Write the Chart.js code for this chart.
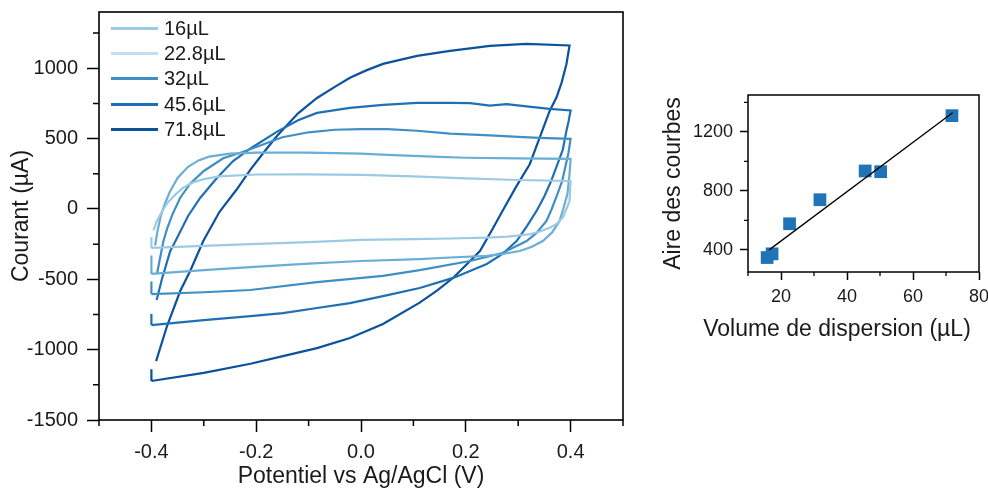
<!DOCTYPE html>
<html>
<head>
<meta charset="utf-8">
<script src="https://cdn.jsdelivr.net/npm/chart.js@4.4.1/dist/chart.umd.min.js"></script>
<style>
  html, body { margin: 0; padding: 0; background: #fff; width: 988px; height: 488px; overflow: hidden;
    font-family: "Liberation Sans", Arial, sans-serif; }
  #cv { position: absolute; left: 0; top: 0; }
  #fit { position: absolute; left: 640px; top: 0; }
  #legend { position: absolute; left: 111px; top: 16px; }
  .row { height: 25.2px; display: flex; align-items: center; }
  .sw { width: 47px; height: 3px; margin-right: 6px; }
  .row span { font-size: 20px; color: #1a1a1a; }
  #fitTitle { position: absolute; left: 637px; width: 400px; top: 314px; height: 28px; line-height: 28px;
    text-align: center; font-size: 23px; color: #1a1a1a; white-space: nowrap; }
</style>
</head>
<body>
<canvas id="cv" width="640" height="488"></canvas>
<canvas id="fit" width="348" height="488"></canvas>
<div id="legend"></div>
<div id="fitTitle">Volume de dispersion (µL)</div>
<script>
// cyclic voltammograms: potential (V) / current (µA), forward scan then reverse
const v16  = [-0.4, -0.4, null, -0.396, -0.39, -0.38, -0.37, -0.355, -0.34, -0.32, -0.3, -0.27, -0.2, -0.1, 0, 0.1, 0.2, 0.3, 0.4,
              0.398, 0.392, 0.385, 0.372, 0.36, 0.34, 0.322, 0.28, 0.239, 0.17, 0.1, 0, -0.1, -0.211, -0.3, -0.4];
const i16  = [-277, -200, null, -150, -90, -20, 40, 100, 150, 190, 212, 232, 245, 246, 242, 232, 218, 206, 199,
              57, 0, -62, -110, -133, -162, -180, -196, -204, -210, -214, -220, -235, -250, -262, -277];

const v228 = [-0.4, -0.4, null, -0.393, -0.388, -0.382, -0.375, -0.365, -0.35, -0.33, -0.31, -0.29, -0.25, -0.2, -0.1, 0, 0.05, 0.1, 0.15, 0.2, 0.3, 0.4,
              0.398, 0.394, 0.386, 0.379, 0.365, 0.347, 0.325, 0.303, 0.27, 0.24, 0.17, 0.112, 0, -0.1, -0.211, -0.3, -0.4];
const i228 = [-462, -330, null, -260, -150, -50, 30, 120, 220, 300, 345, 372, 393, 400, 400, 393, 385, 377, 370, 364, 360, 356,
              250, 107, 0, -85, -165, -228, -270, -299, -320, -334, -345, -356, -370, -388, -413, -435, -462];

const v32  = [-0.4, -0.4, null, -0.389, -0.383, -0.377, -0.37, -0.36, -0.345, -0.326, -0.3, -0.263, -0.23, -0.2, -0.15, -0.1, -0.05, 0, 0.05, 0.107, 0.17, 0.246, 0.3, 0.34, 0.4,
              0.396, 0.39, 0.384, 0.375, 0.364, 0.354, 0.335, 0.316, 0.27, 0.208, 0.112, 0.042, -0.084, -0.211, -0.3, -0.4];
const i32  = [-605, -515, null, -455, -340, -228, -140, -40, 80, 180, 270, 360, 400, 440, 510, 545, 563, 568, 568, 556, 535, 523, 512, 505, 498,
              400, 300, 199, 107, 0, -85, -170, -228, -313, -370, -435, -475, -520, -576, -592, -605];

const v456 = [-0.4, -0.4, null, -0.39, -0.38, -0.364, -0.354, -0.33, -0.307, -0.275, -0.244, -0.211, -0.16, -0.12, -0.084, -0.021, 0.042, 0.107, 0.17, 0.208, 0.246, 0.278, 0.32, 0.36, 0.4,
              0.396, 0.392, 0.385, 0.376, 0.363, 0.35, 0.335, 0.317, 0.297, 0.27, 0.24, 0.176, 0.112, 0.042, -0.021, -0.084, -0.149, -0.211, -0.3, -0.4];
const i456 = [-825, -747, null, -647, -500, -299, -228, -50, 78, 220, 341, 430, 550, 630, 683, 718, 740, 754, 754, 752, 735, 745, 728, 711, 700,
              620, 555, 420, 330, 200, 90, -14, -120, -228, -320, -391, -490, -562, -619, -669, -704, -740, -761, -790, -825];

const v718 = [-0.4, -0.4, null, -0.391, -0.37, -0.345, -0.326, -0.301, -0.27, -0.237, -0.211, -0.185, -0.16, -0.12, -0.084, -0.05, -0.021, 0.01, 0.042, 0.107, 0.17, 0.246, 0.316, 0.398,
              0.392, 0.383, 0.373, 0.36, 0.341, 0.322, 0.297, 0.27, 0.25, 0.227, 0.2, 0.176, 0.145, 0.112, 0.042, -0.021, -0.084, -0.149, -0.211, -0.3, -0.4];
const i718 = [-1223, -1140, null, -1081, -830, -583, -441, -228, -20, 140, 280, 405, 520, 680, 789, 868, 932, 985, 1031, 1088, 1124, 1159, 1173, 1162,
              1029, 900, 792, 697, 507, 318, 164, -14, -150, -299, -400, -489, -580, -666, -818, -917, -989, -1046, -1100, -1165, -1223];

const cvLabels = ['16µL', '22.8µL', '32µL', '45.6µL', '71.8µL'];
const cvVolts = [v16, v228, v32, v456, v718];
const cvAmps = [i16, i228, i32, i456, i718];
const lineColors = ['#9ccae4', '#6aaed6', '#3f8fc5', '#1f6fb4', '#0b529c'];
const legendColors = ['#9ccae4', '#c6dcef', '#3f8fc5', '#1f6fb4', '#0b529c'];

const xTicksL = [-0.4, -0.2, 0, 0.2, 0.4];
const xMinorL = [-0.5, -0.3, -0.1, 0.1, 0.3, 0.5];
const yTicksL = [-1500, -1000, -500, 0, 500, 1000];
const yMinorL = [-1250, -750, -250, 250, 750, 1250];

// area vs dispersion volume
const volume = [15.8, 17.3, 22.6, 31.8, 45.5, 50.2, 71.8];
const aire = [348, 373, 577, 740, 935, 930, 1310];
const fitX = [16.4, 72];
const fitY = [400, 1330];

const xTicksR = [20, 40, 60, 80];
const xMinorR = [10, 30, 50, 70];
const yTicksR = [400, 800, 1200];
const yMinorR = [600, 1000, 1400];

Chart.defaults.font.family = '"Liberation Sans", Arial, sans-serif';
Chart.defaults.color = '#1a1a1a';

function pts(xs, ys) {
  return xs.map((x, k) => ({ x: x, y: ys[k] }));
}

// box around the plot + short minor ticks
const framePlugin = {
  id: 'frame',
  afterDraw(chart, args, o) {
    const { ctx, chartArea: a } = chart;
    const sx = chart.scales.x, sy = chart.scales.y;
    ctx.save();
    ctx.strokeStyle = '#000';
    ctx.lineWidth = o.width;
    ctx.strokeRect(a.left, a.top, a.right - a.left, a.bottom - a.top);
    ctx.lineWidth = o.tickWidth;
    ctx.beginPath();
    o.xMinor.forEach(v => {
      const p = sx.getPixelForValue(v);
      ctx.moveTo(p, a.bottom); ctx.lineTo(p, a.bottom + o.len);
    });
    o.yMinor.forEach(v => {
      const p = sy.getPixelForValue(v);
      ctx.moveTo(a.left, p); ctx.lineTo(a.left - o.len, p);
    });
    ctx.stroke();
    ctx.restore();
  }
};

function scale(opt) {
  return {
    type: 'linear',
    min: opt.min,
    max: opt.max,
    afterBuildTicks: s => { s.ticks = opt.ticks.map(v => ({ value: v })); },
    afterFit: s => {
      if (opt.height) s.height = opt.height;
      if (opt.width) s.width = opt.width;
      s.paddingLeft = 0; s.paddingRight = 0; s.paddingTop = 0; s.paddingBottom = 0;
    },
    ticks: { font: { size: opt.fontSize }, padding: opt.pad, autoSkip: false, maxRotation: 0,
             callback: opt.fmt || (v => String(v)) },
    grid: { drawOnChartArea: false, tickLength: opt.tick, tickWidth: 1.5, tickColor: '#000' },
    border: { display: false },
    title: { display: !!opt.title, text: opt.title, font: { size: 23, lineHeight: 1 }, color: '#1a1a1a', padding: opt.titlePad }
  };
}

new Chart(document.getElementById('cv'), {
  type: 'line',
  data: {
    datasets: cvLabels.map((lab, k) => ({
      label: lab,
      data: pts(cvVolts[k], cvAmps[k]),
      borderColor: lineColors[k],
      borderWidth: 2.2,
      pointRadius: 0,
      tension: 0,
      spanGaps: false,
      fill: false
    }))
  },
  options: {
    responsive: false,
    animation: false,
    layout: { padding: { top: 12, right: 17, left: 0, bottom: 0 } },
    plugins: {
      legend: { display: false },
      tooltip: { enabled: false },
      frame: { xMinor: xMinorL, yMinor: yMinorL, len: 6, width: 1.6, tickWidth: 1.5 }
    },
    scales: {
      x: scale({ min: -0.5, max: 0.5, ticks: xTicksL, height: 68, fontSize: 20, pad: 8, tick: 12,
                 fmt: v => v.toFixed(1), title: 'Potentiel vs Ag/AgCl (V)', titlePad: { top: 0, bottom: 0 } }),
      y: scale({ min: -1500, max: 1400, ticks: yTicksL, width: 99, fontSize: 20, pad: 9, tick: 12,
                 title: 'Courant (µA)', titlePad: { top: 10, bottom: 0 } })
    }
  },
  plugins: [framePlugin]
});

new Chart(document.getElementById('fit'), {
  type: 'line',
  data: {
    datasets: [
      { label: 'fit', data: pts(fitX, fitY), borderColor: '#000', borderWidth: 1.3, pointRadius: 0, tension: 0, fill: false },
      { label: 'Aire', data: pts(volume, aire), showLine: false, pointStyle: 'rect', pointRadius: 9,
        backgroundColor: '#1f74b8', borderWidth: 0 }
    ]
  },
  options: {
    responsive: false,
    animation: false,
    layout: { padding: { top: 95, right: 8, left: 0, bottom: 146 } },
    plugins: {
      legend: { display: false },
      tooltip: { enabled: false },
      frame: { xMinor: xMinorR, yMinor: yMinorR, len: 4, width: 1.5, tickWidth: 1.3 }
    },
    scales: {
      x: scale({ min: 10, max: 80, ticks: xTicksR, height: 70, fontSize: 18, pad: 6, tick: 8, title: '' }),
      y: scale({ min: 250, max: 1450, ticks: yTicksR, width: 108, fontSize: 18, pad: 7, tick: 8,
                 title: 'Aire des courbes', titlePad: { top: 22, bottom: 0 } })
    }
  },
  plugins: [framePlugin]
});

// legend drawn inside the plot, top left
const legend = document.getElementById('legend');
cvLabels.forEach((lab, k) => {
  const row = document.createElement('div');
  row.className = 'row';
  const sw = document.createElement('div');
  sw.className = 'sw';
  sw.style.background = legendColors[k];
  const txt = document.createElement('span');
  txt.textContent = lab;
  row.appendChild(sw);
  row.appendChild(txt);
  legend.appendChild(row);
});
</script>
</body>
</html>
